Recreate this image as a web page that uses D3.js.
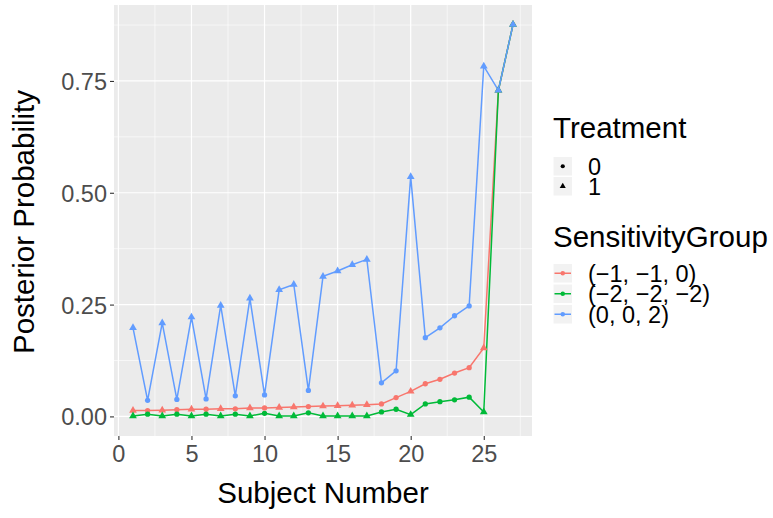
<!DOCTYPE html>
<html>
<head>
<meta charset="utf-8">
<script src="https://cdn.jsdelivr.net/npm/d3@7"></script>
<style>
  body { margin: 0; background: #fff; }
  text { font-family: "Liberation Sans", Arial, sans-serif; }
</style>
</head>
<body>
<svg id="chart" width="773" height="518"></svg>
<script>
// Data
const subjects = d3.range(1, 28);
const treatment = [1,0,1,0,1,0,1,0,1,0,1,1,0,1,1,1,1,0,0,1,0,0,0,0,1,1,1];
const groups = ["(\u22121, \u22121, 0)", "(\u22122, \u22122, \u22122)", "(0, 0, 2)"];
const groupColors = ["#F8766D", "#00BA38", "#619CFF"];
const redValues = [0.013,0.013,0.014,0.015,0.016,0.016,0.017,0.017,0.019,0.019,0.020,0.021,0.022,0.023,0.024,0.025,0.026,0.028,0.042,0.056,0.073,0.083,0.097,0.109,0.153,0.729,0.876];
const greenValues = [0.001,0.005,0.001,0.005,0.001,0.005,0.001,0.005,0.001,0.007,0.001,0.001,0.008,0.001,0.001,0.001,0.001,0.010,0.016,0.004,0.028,0.033,0.037,0.043,0.010,0.729,0.876];
const blueValues = [0.198,0.036,0.209,0.038,0.222,0.039,0.248,0.046,0.264,0.048,0.283,0.295,0.058,0.313,0.325,0.339,0.351,0.075,0.102,0.536,0.176,0.198,0.225,0.247,0.783,0.729,0.876];
const xTicks = [0, 5, 10, 15, 20, 25];
const yTicks = [0, 0.25, 0.5, 0.75];

const seriesValues = [redValues, greenValues, blueValues];

const svg = d3.select("#chart");
const panel = { left: 114, top: 5, right: 532, bottom: 436 };

// Scales (ggplot-like 5% expansion)
const xScale = d3.scaleLinear().domain([1 - 1.3, 27 + 1.3]).range([panel.left, panel.right]);
const yMax = 0.876;
const yScale = d3.scaleLinear().domain([-yMax * 0.05, yMax * 1.05]).range([panel.bottom, panel.top]);

// Panel background
svg.append("rect")
  .attr("x", panel.left).attr("y", panel.top)
  .attr("width", panel.right - panel.left).attr("height", panel.bottom - panel.top)
  .attr("fill", "#EBEBEB");

// Minor grid
const xMinor = xTicks.map(d => d + 2.5);
const yMinor = yTicks.map(d => d + 0.125);
svg.append("g").selectAll("line").data(xMinor).join("line")
  .attr("x1", d => xScale(d)).attr("x2", d => xScale(d))
  .attr("y1", panel.top).attr("y2", panel.bottom)
  .attr("stroke", "#fff").attr("stroke-width", 0.6);
svg.append("g").selectAll("line").data(yMinor).join("line")
  .attr("y1", d => yScale(d)).attr("y2", d => yScale(d))
  .attr("x1", panel.left).attr("x2", panel.right)
  .attr("stroke", "#fff").attr("stroke-width", 0.6);

// Major grid
svg.append("g").selectAll("line").data(xTicks).join("line")
  .attr("x1", d => xScale(d)).attr("x2", d => xScale(d))
  .attr("y1", panel.top).attr("y2", panel.bottom)
  .attr("stroke", "#fff").attr("stroke-width", 1.2);
svg.append("g").selectAll("line").data(yTicks).join("line")
  .attr("y1", d => yScale(d)).attr("y2", d => yScale(d))
  .attr("x1", panel.left).attr("x2", panel.right)
  .attr("stroke", "#fff").attr("stroke-width", 1.2);

// Axes
const xAxis = svg.append("g")
  .attr("transform", `translate(0,${panel.bottom})`)
  .call(d3.axisBottom(xScale).tickValues(xTicks).tickSize(4).tickPadding(3));
const yAxis = svg.append("g")
  .attr("transform", `translate(${panel.left},0)`)
  .call(d3.axisLeft(yScale).tickValues(yTicks).tickFormat(d3.format(".2f")).tickSize(4).tickPadding(3));
[xAxis, yAxis].forEach(ax => {
  ax.select(".domain").remove();
  ax.selectAll("line").attr("stroke", "#333333").attr("stroke-width", 1.1);
  ax.selectAll("text").attr("fill", "#4D4D4D").style("font-size", "23.5px")
    .style("font-family", "'Liberation Sans', Arial, sans-serif");
});
xAxis.selectAll("text").attr("dy", "0.8em");
yAxis.selectAll("text").attr("dy", "0.36em");

// Axis titles
svg.append("text")
  .attr("x", (panel.left + panel.right) / 2).attr("y", 503)
  .attr("text-anchor", "middle").style("font-size", "29.5px").attr("fill", "#000")
  .text("Subject Number");
svg.append("text")
  .attr("transform", `translate(34,222) rotate(-90)`)
  .attr("text-anchor", "middle").style("font-size", "29.5px").attr("fill", "#000")
  .text("Posterior Probability");

// Lines
const line = d3.line()
  .x((d, i) => xScale(subjects[i]))
  .y(d => yScale(d));

seriesValues.forEach((vals, gi) => {
  svg.append("path")
    .datum(vals)
    .attr("d", line)
    .attr("fill", "none")
    .attr("stroke", groupColors[gi])
    .attr("stroke-width", 1.5);
});

// Points
const tri = d3.symbol().type(d3.symbolTriangle).size(26);
const circ = d3.symbol().type(d3.symbolCircle).size(22);
seriesValues.forEach((vals, gi) => {
  svg.append("g").selectAll("path").data(vals).join("path")
    .attr("transform", (d, i) => `translate(${xScale(subjects[i])},${yScale(d)})`)
    .attr("d", (d, i) => treatment[i] === 1 ? tri() : circ())
    .attr("fill", groupColors[gi]);
});

// Legends
const legX = 553;
const keySize = 19.5;

svg.append("text").attr("x", legX).attr("y", 138)
  .style("font-size", "29.5px").attr("fill", "#000").text("Treatment");
const treatLabels = ["0", "1"];
treatLabels.forEach((lab, i) => {
  const y0 = 156.5 + i * 20;
  svg.append("rect").attr("x", legX).attr("y", y0).attr("width", keySize).attr("height", keySize)
    .attr("fill", "#F2F2F2").attr("stroke", "#fff").attr("stroke-width", 1);
  svg.append("path")
    .attr("transform", `translate(${legX + keySize / 2},${y0 + keySize / 2})`)
    .attr("d", i === 0 ? d3.symbol().type(d3.symbolCircle).size(14)() : d3.symbol().type(d3.symbolTriangle).size(16)())
    .attr("fill", "#000");
  svg.append("text").attr("x", 588).attr("y", y0 + keySize / 2).attr("dy", "0.36em")
    .style("font-size", "23.5px").attr("fill", "#000").text(lab);
});

svg.append("text").attr("x", legX).attr("y", 247)
  .style("font-size", "29.5px").attr("fill", "#000").text("SensitivityGroup");
groups.forEach((lab, i) => {
  const y0 = 263.5 + i * 20.5;
  svg.append("rect").attr("x", legX).attr("y", y0).attr("width", keySize).attr("height", keySize)
    .attr("fill", "#F2F2F2").attr("stroke", "#fff").attr("stroke-width", 1);
  svg.append("line")
    .attr("x1", legX + 1.5).attr("x2", legX + keySize - 1.5)
    .attr("y1", y0 + keySize / 2).attr("y2", y0 + keySize / 2)
    .attr("stroke", groupColors[i]).attr("stroke-width", 1.5);
  svg.append("path")
    .attr("transform", `translate(${legX + keySize / 2},${y0 + keySize / 2})`)
    .attr("d", d3.symbol().type(d3.symbolCircle).size(16)())
    .attr("fill", groupColors[i]);
  svg.append("text").attr("x", 588).attr("y", y0 + keySize / 2).attr("dy", "0.36em")
    .style("font-size", "23.5px").attr("fill", "#000").text(lab);
});
</script>
</body>
</html>
